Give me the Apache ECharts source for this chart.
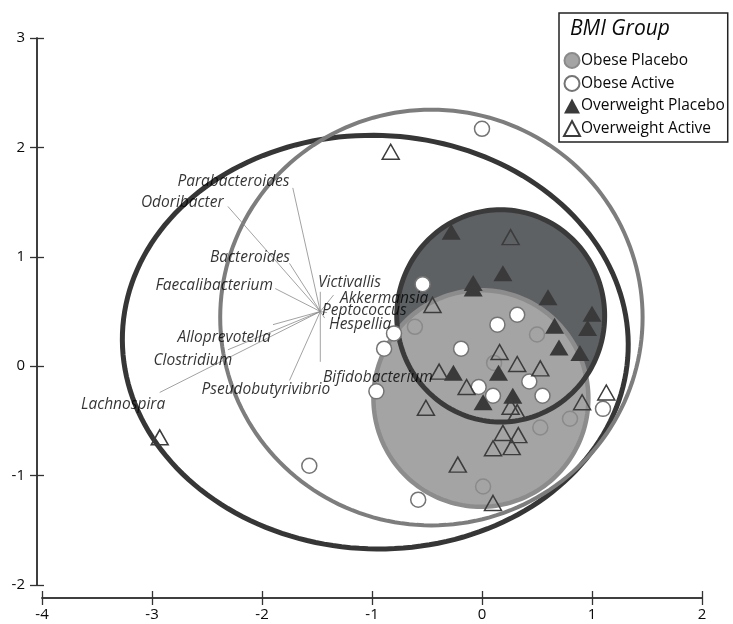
<!DOCTYPE html>
<html>
<head>
<meta charset="utf-8">
<script src="https://cdn.jsdelivr.net/npm/echarts@6/dist/echarts.min.js"></script>
<style>
  html, body { margin: 0; padding: 0; background: #fff; }
  #chart { width: 733px; height: 624px; }
</style>
</head>
<body>
<div id="chart"></div>
<script>
// ---- Ordination scores, one array per BMI group / treatment ----
const obesePlacebo = [
  [-0.61, 0.36], [0.50, 0.29], [0.11, 0.03], [0.53, -0.56], [0.80, -0.48], [0.01, -1.10]
];
const obeseActive = [
  [0.00, 2.17], [-0.54, 0.75], [-0.80, 0.30], [-0.89, 0.16], [-0.96, -0.23],
  [0.14, 0.38], [0.32, 0.47], [-0.19, 0.16], [-0.03, -0.19], [0.10, -0.27],
  [0.43, -0.14], [0.55, -0.27], [-0.58, -1.22], [-1.57, -0.91], [1.10, -0.39]
];
const overweightPlacebo = [
  [-0.28, 1.23], [-0.08, 0.76], [-0.08, 0.71], [0.19, 0.85], [0.60, 0.63],
  [1.00, 0.48], [0.66, 0.37], [0.96, 0.35], [0.70, 0.17], [0.89, 0.12],
  [-0.26, -0.06], [0.15, -0.06], [0.01, -0.33], [0.28, -0.27]
];
const overweightActive = [
  [-0.83, 1.96], [0.26, 1.18], [-0.45, 0.56], [0.16, 0.13], [0.32, 0.02],
  [0.53, -0.02], [-0.39, -0.05], [-0.14, -0.19], [-0.51, -0.38], [0.26, -0.37],
  [0.32, -0.42], [0.91, -0.33], [1.13, -0.24], [0.19, -0.61], [0.33, -0.63],
  [0.10, -0.75], [0.27, -0.74], [-0.22, -0.90], [0.10, -1.25], [-2.93, -0.65]
];

// ---- Group ellipses: [centerX, centerY, semiAxisX, semiAxisY, rotationDeg] ----
const overweightEllipse = [-0.97, 0.22, 2.30, 1.89, -2];
const obeseEllipse = [-0.46, 0.445, 1.92, 1.90, 0];
const overweightPlaceboEllipse = [0.17, 0.46, 0.945, 0.97, 0];
const obesePlaceboEllipse = [-0.01, -0.295, 0.977, 0.99, 0];

// ---- Genus loadings (biplot vectors) ----
const loadingOrigin = [-1.47, 0.50];
const genera = [
  'Parabacteroides', 'Odoribacter', 'Bacteroides', 'Faecalibacterium',
  'Victivallis', 'Akkermansia', 'Peptococcus', 'Hespellia',
  'Alloprevotella', 'Clostridium', 'Lachnospira', 'Pseudobutyrivibrio', 'Bifidobacterium'
];
const loadingTips = [
  [-1.72, 1.63], [-2.31, 1.46], [-1.75, 0.94], [-1.88, 0.71],
  [-1.47, 0.68], [-1.35, 0.65], [-1.41, 0.49], [-1.43, 0.44],
  [-1.90, 0.38], [-2.31, 0.15], [-2.93, -0.24], [-1.75, -0.13], [-1.47, 0.04]
];
const loadingLabelAt = [
  [-1.75, 1.69], [-2.35, 1.50], [-1.745, 0.99], [-1.90, 0.74],
  [-1.49, 0.76], [-1.29, 0.62], [-1.455, 0.505], [-1.39, 0.38],
  [-1.92, 0.26], [-2.27, 0.05], [-2.88, -0.35], [-1.38, -0.21], [-1.445, -0.10]
];
const loadingLabelSide = [
  'left', 'left', 'left', 'left',
  'right', 'right', 'right', 'right',
  'left', 'left', 'left', 'left', 'right'
];

// ---- Axis ticks ----
const xTicks = { min: -4, max: 2, step: 1 };
const yTicks = { min: -2, max: 3, step: 1 };

const FONT = '"Open Sans", "Liberation Sans", sans-serif';
const AXIS_COLOR = '#333333';
const TEXT_COLOR = '#0a0a0a';

// Ellipse outline traced through the cartesian coordinate system
function ellipseSeries(name, params, style, z) {
  return {
    type: 'custom',
    name: name,
    z: z,
    silent: true,
    clip: false,
    data: [params],
    renderItem: function (p, api) {
      const cx = api.value(0), cy = api.value(1);
      const a = api.value(2), b = api.value(3);
      const r = api.value(4) * Math.PI / 180;
      const pts = [];
      const n = 180;
      for (let i = 0; i < n; i++) {
        const t = 2 * Math.PI * i / n;
        const dx = a * Math.cos(t), dy = b * Math.sin(t);
        pts.push(api.coord([
          cx + dx * Math.cos(r) - dy * Math.sin(r),
          cy + dx * Math.sin(r) + dy * Math.cos(r)
        ]));
      }
      return { type: 'polygon', shape: { points: pts }, style: style };
    }
  };
}

const axisCommon = {
  type: 'value',
  splitLine: { show: false },
  axisLine: { show: true, onZero: false, lineStyle: { color: AXIS_COLOR, width: 1.5 } },
};

const option = {
  animation: false,
  backgroundColor: '#fff',
  grid: { left: 42, right: 31, top: 38, bottom: 39, containLabel: false },
  title: {
    text: 'BMI Group',
    left: 565, top: 14,
    textStyle: { fontFamily: FONT, fontStyle: 'italic', fontWeight: 'normal', fontSize: 21, color: TEXT_COLOR }
  },
  legend: {
    orient: 'vertical',
    left: 559, top: 13,
    padding: [39, 3, 5, 4],
    itemWidth: 16, itemHeight: 15, itemGap: 6,
    borderColor: '#222', borderWidth: 1.5,
    textStyle: { fontFamily: FONT, fontSize: 15.5, lineHeight: 15, color: TEXT_COLOR, padding: [0, 0, 0, -4] },
    data: ['Obese Placebo', 'Obese Active', 'Overweight Placebo', 'Overweight Active']
  },
  xAxis: [
    Object.assign({}, axisCommon, {
      min: xTicks.min, max: xTicks.max, interval: xTicks.step,
      position: 'bottom', offset: 13,
      axisTick: { show: true, inside: false, length: 7, lineStyle: { color: AXIS_COLOR, width: 1.3 } },
      axisLabel: { margin: 9, fontFamily: FONT, fontSize: 15, color: TEXT_COLOR }
    }),
    Object.assign({}, axisCommon, {
      min: xTicks.min, max: xTicks.max, interval: xTicks.step,
      position: 'bottom', offset: 13,
      axisTick: { show: true, inside: true, length: 7, lineStyle: { color: AXIS_COLOR, width: 1.3 } },
      axisLabel: { show: false }
    })
  ],
  yAxis: [
    Object.assign({}, axisCommon, {
      min: yTicks.min, max: yTicks.max, interval: yTicks.step,
      position: 'left', offset: 5,
      axisTick: { show: true, inside: false, length: 7, lineStyle: { color: AXIS_COLOR, width: 1.3 } },
      axisLabel: { margin: 12, fontFamily: FONT, fontSize: 15, color: TEXT_COLOR }
    }),
    Object.assign({}, axisCommon, {
      min: yTicks.min, max: yTicks.max, interval: yTicks.step,
      position: 'left', offset: 5,
      axisTick: { show: true, inside: true, length: 7, lineStyle: { color: AXIS_COLOR, width: 1.3 } },
      axisLabel: { show: false }
    })
  ],
  series: [
    ellipseSeries('overweight placebo fill', overweightPlaceboEllipse,
      { fill: '#5e6164', stroke: null }, 1),
    ellipseSeries('obese placebo area', obesePlaceboEllipse,
      { fill: '#a4a4a4', stroke: '#8c8c8c', lineWidth: 4.5 }, 2),
    ellipseSeries('overweight placebo outline', overweightPlaceboEllipse,
      { fill: null, stroke: '#3a3a3a', lineWidth: 5 }, 3),
    ellipseSeries('overweight outline', overweightEllipse,
      { fill: null, stroke: '#363636', lineWidth: 5 }, 3),
    ellipseSeries('obese outline', obeseEllipse,
      { fill: null, stroke: '#7d7d7d', lineWidth: 4 }, 3),
    {
      type: 'custom',
      name: 'loadings',
      z: 4,
      silent: true,
      data: loadingTips,
      renderItem: function (p, api) {
        const a = api.coord(loadingOrigin);
        const b = api.coord([api.value(0), api.value(1)]);
        return {
          type: 'line',
          shape: { x1: a[0], y1: a[1], x2: b[0], y2: b[1] },
          style: { stroke: '#8a8a8a', lineWidth: 0.8 }
        };
      }
    },
    {
      type: 'scatter',
      name: 'Obese Placebo',
      z: 5,
      symbol: 'circle', symbolSize: 15,
      itemStyle: { color: '#a4a4a4', borderColor: '#8a8a8a', borderWidth: 1.5, opacity: 1 },
      data: obesePlacebo
    },
    {
      type: 'scatter',
      name: 'Obese Active',
      z: 5,
      symbol: 'circle', symbolSize: 15,
      itemStyle: { color: '#ffffff', borderColor: '#747474', borderWidth: 1.5, opacity: 1 },
      data: obeseActive
    },
    {
      type: 'scatter',
      name: 'Overweight Placebo',
      z: 5,
      symbol: 'triangle', symbolSize: [19, 16],
      itemStyle: { color: '#3a3a3a', opacity: 1 },
      data: overweightPlacebo
    },
    {
      type: 'scatter',
      name: 'Overweight Active',
      z: 5,
      symbol: 'triangle', symbolSize: [17, 15],
      itemStyle: { color: 'rgba(0,0,0,0)', borderColor: '#3c3c3c', borderWidth: 1.5, opacity: 1 },
      data: overweightActive
    },
    {
      type: 'scatter',
      name: 'genus labels',
      z: 6,
      silent: true,
      symbolSize: 0,
      data: genera.map(function (g, i) {
        return {
          name: g,
          value: loadingLabelAt[i],
          label: { position: loadingLabelSide[i] }
        };
      }),
      label: {
        show: true,
        distance: 0,
        formatter: '{b}',
        fontFamily: FONT,
        fontStyle: 'italic',
        fontSize: 15.5,
        color: '#000000'
      }
    }
  ]
};

echarts.init(document.getElementById('chart'), null, { renderer: 'canvas' }).setOption(option);
</script>
</body>
</html>
